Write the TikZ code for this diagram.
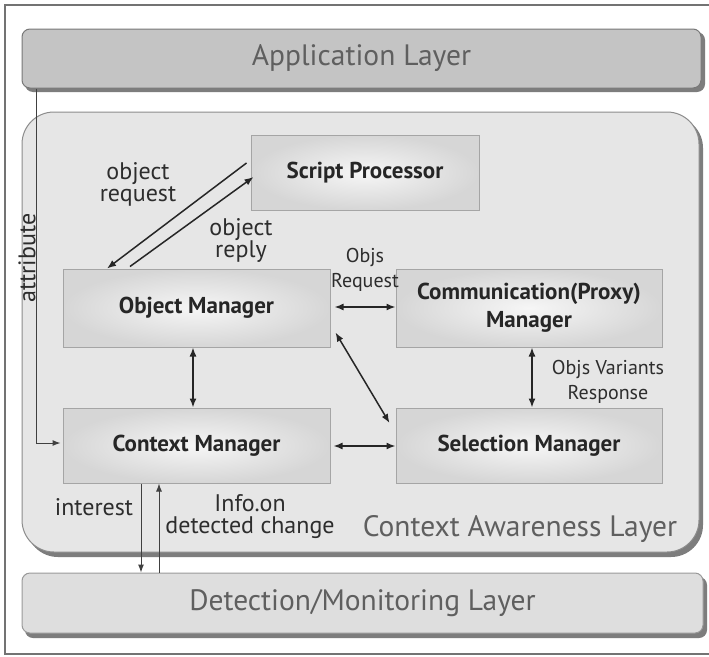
\documentclass[tikz,border=0pt]{standalone}
\usepackage{fontspec}
\setmainfont{PT Sans}
\usetikzlibrary{arrows.meta,calc}
\definecolor{boxin}{RGB}{246,246,246}
\definecolor{boxout}{RGB}{214,214,214}
\definecolor{boxedge}{RGB}{165,165,165}
\definecolor{cafill}{RGB}{230,230,230}
\definecolor{appfill}{RGB}{196,196,196}
\definecolor{detfill}{RGB}{222,222,222}
\definecolor{layeredge}{RGB}{120,120,120}
\definecolor{shadowc}{RGB}{125,125,125}
\definecolor{layertext}{RGB}{95,95,95}
\definecolor{labeltext}{RGB}{45,45,45}
\tikzset{
  mgr/.style={draw=boxedge, line width=1pt, inner color=boxin, outer color=boxout,
    inner sep=0pt, align=center, font=\fontsize{23}{28}\selectfont\bfseries, text=black!85},
  layer/.style={rounded corners=8pt, line width=1pt, draw=layeredge, inner sep=0pt,
    font=\fontsize{29.5}{32}\selectfont, text=layertext},
  lbl/.style={align=center, inner sep=0pt, text=labeltext, font=\fontsize{24}{22}\selectfont},
  slbl/.style={align=center, inner sep=0pt, text=labeltext, font=\fontsize{20}{24.5}\selectfont},
  arr/.style={line width=1.5pt, draw=black!85, -{Latex[length=9pt,width=7pt]}},
  darr/.style={line width=1.5pt, draw=black!85, {Latex[length=9pt,width=7pt]}-{Latex[length=9pt,width=7pt]}},
  thinarr/.style={line width=1pt, draw=black!75, -{Latex[length=8pt,width=6pt]}}
}
\begin{document}
\begin{tikzpicture}[x=1pt,y=-1pt]
\useasboundingbox (0,0) rectangle (709,656);
\fill[white] (0,0) rectangle (709,656);
% outer frame
\draw[line width=1.2pt, draw=black!55] (5,5) rectangle (712,654);
% application layer
\fill[shadowc, rounded corners=8pt] (25,32) rectangle (705,92);
\node[layer, fill=appfill, minimum width=679pt, minimum height=59pt] (app) at (361.5,58.5) {Application Layer};
% context awareness layer
\fill[shadowc, rounded corners=32pt] (26,116) rectangle (703,557);
\draw[draw=black!45, line width=1pt, fill=cafill, rounded corners=32pt] (22,112) rectangle (699,552);
\node[layer, draw=none, anchor=center] (calbl) at (520,529) {Context Awareness Layer};
% detection layer
\fill[shadowc, rounded corners=8pt] (25,577) rectangle (707,638);
\node[layer, fill=detfill, draw=black!40, minimum width=681pt, minimum height=60pt] (det) at (362.5,603) {Detection/Monitoring Layer};
% managers
\node[mgr, minimum width=228pt, minimum height=75pt] (sp) at (365,172.5) {Script Processor};
\node[mgr, minimum width=267pt, minimum height=78pt] (om) at (196.5,308) {Object Manager};
\node[mgr, minimum width=266pt, minimum height=78pt] (cm) at (529,308) {Communication(Proxy)\\Manager};
\node[mgr, minimum width=267pt, minimum height=75pt] (ctx) at (196.5,445.5) {Context Manager};
\node[mgr, minimum width=266pt, minimum height=75pt] (sel) at (529,445.5) {Selection Manager};
% attribute
\draw[thinarr] ([shift={(15,0)}]app.south west) |- ([shift={(-2,-2.5)}]ctx.west);
\node[lbl, rotate=90] (attr) at (27,258) {attribute};
% object request / reply
\draw[arr] ([shift={(-4,-9.5)}]sp.west) -- ([shift={(-89.5,0)}]om.north);
\draw[arr] ([shift={(-66.5,-2)}]om.north) -- ([shift={(3,4.5)}]sp.west);
\node[lbl] (oreq) at (138,184) {object\\request};
\node[lbl] (orep) at (241,240) {object\\reply};
% manager connectors
\draw[darr] ([shift={(4,-1)}]om.east) -- ([shift={(0,-1)}]cm.west);
\node[slbl] (objreq) at (365,270) {Objs\\Request};
\draw[darr] ([shift={(5,-15)}]om.south east) -- ([shift={(-6,-22.5)}]sel.west);
\draw[darr] ([shift={(-3.5,0)}]om.south) -- ([shift={(-3.5,0)}]ctx.north);
\draw[darr] ([shift={(3,0)}]cm.south) -- ([shift={(3,0)}]sel.north);
\node[slbl] (ovr) at (608,382) {Objs Variants\\Response};
\draw[darr] ([shift={(3,0.5)}]ctx.east) -- ([shift={(0,0.5)}]sel.west);
% interest / info
\draw[thinarr] ([shift={(-55.5,0)}]ctx.south) coordinate (i1) -- (i1 |- det.north);
\draw[thinarr] ([shift={(-203.5,0)}]det.north) coordinate (i2) -- (i2 |- ctx.south);
\node[lbl] (intr) at (94,507) {interest};
\node[lbl] (info) at (250,517) {Info.on\\detected change};
\end{tikzpicture}
\end{document}
